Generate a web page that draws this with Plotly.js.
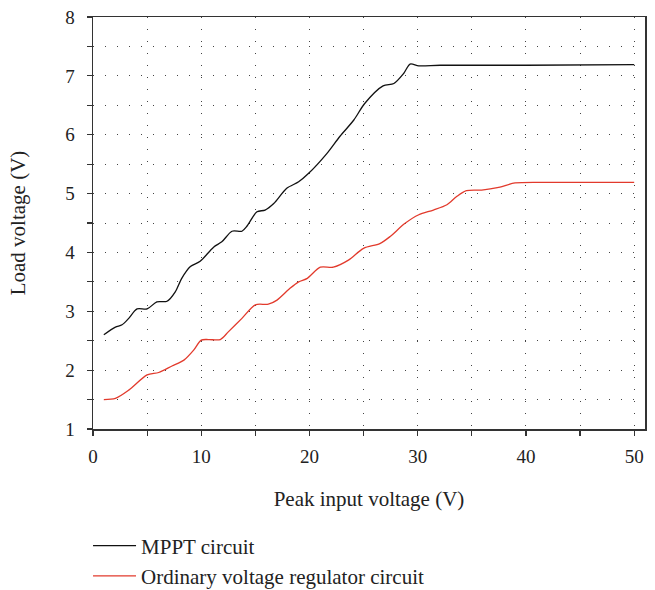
<!DOCTYPE html>
<html>
<head>
<meta charset="utf-8">
<script src="https://cdn.plot.ly/plotly-3.0.1.min.js"></script>
<style>html,body{margin:0;padding:0;background:#fff;}#chart{width:655px;height:590px;}</style>
</head>
<body>
<div id="chart"></div>
<script>
// MPPT circuit
var mpptX = [1, 2.07, 2.68, 3.3, 4.07, 5.0, 5.9, 6.84, 7.6, 8.2, 9.0, 9.9, 11.14, 11.9, 12.84, 13.76, 14.2, 15.15, 15.9, 16.7, 17.9, 19.0, 19.9, 21.6, 22.8, 24.1, 25.1, 26.8, 27.8, 28.7, 29.3, 30.1, 32.1, 40, 50];
var mpptY = [2.60, 2.73, 2.77, 2.88, 3.04, 3.04, 3.16, 3.17, 3.33, 3.56, 3.76, 3.85, 4.09, 4.18, 4.36, 4.36, 4.44, 4.69, 4.72, 4.83, 5.09, 5.20, 5.34, 5.68, 5.97, 6.25, 6.53, 6.83, 6.87, 7.04, 7.20, 7.17, 7.18, 7.18, 7.19];
// Ordinary voltage regulator circuit
var regX = [1, 2.07, 3.3, 5.0, 6.07, 7.3, 8.4, 9.3, 10.0, 10.7, 11.76, 12.5, 13.76, 15.0, 16.2, 17.0, 18.2, 19.0, 19.8, 21.0, 22.2, 23.6, 25.0, 26.5, 27.45, 28.8, 30.1, 31.45, 32.7, 33.6, 34.5, 35.9, 36.7, 37.6, 39.0, 42, 50];
var regY = [1.50, 1.52, 1.66, 1.92, 1.96, 2.07, 2.17, 2.34, 2.51, 2.52, 2.52, 2.65, 2.88, 3.11, 3.12, 3.19, 3.39, 3.50, 3.56, 3.75, 3.75, 3.87, 4.07, 4.15, 4.27, 4.49, 4.64, 4.72, 4.81, 4.95, 5.05, 5.06, 5.08, 5.11, 5.18, 5.19, 5.19];
var seriesNames = ["MPPT circuit", "Ordinary voltage regulator circuit"];
var xTitle = "Peak input voltage (V)";
var yTitle = "Load voltage (V)";

var font = "Liberation Serif, DejaVu Serif, serif";
var traces = [
  {x: mpptX, y: mpptY, name: seriesNames[0], mode: "lines",
   line: {color: "#111111", width: 1.3, shape: "spline", smoothing: 0.8}},
  {x: regX, y: regY, name: seriesNames[1], mode: "lines",
   line: {color: "#e23a2c", width: 1.3, shape: "spline", smoothing: 0.8}}
];
var gridStyle = {color: "#444", width: 1, dash: "1px,11px"};
var layout = {
  width: 655, height: 590,
  margin: {l: 93, r: 10, t: 17, b: 161, autoexpand: false},
  paper_bgcolor: "#fff", plot_bgcolor: "#fff",
  font: {family: font, size: 19, color: "#222"},
  showlegend: true,
  legend: {orientation: "v", x: -0.009, xanchor: "left", y: -0.234, yanchor: "top",
           font: {family: font, size: 21, color: "#222"}, traceorder: "normal",
           itemwidth: 43, bgcolor: "rgba(0,0,0,0)"},
  xaxis: {
    range: [0, 51], dtick: 10, tick0: 0, automargin: false,
    ticks: "outside", ticklen: 5, tickwidth: 1.2, tickcolor: "#333",
    showline: true, linecolor: "#333", linewidth: 1.5, mirror: true,
    showgrid: true, gridcolor: gridStyle.color, gridwidth: 1, griddash: gridStyle.dash,
    zeroline: false, ticklabelstandoff: 5,
    minor: {dtick: 5, tick0: 0, ticks: "outside", ticklen: 5, tickcolor: "#333", showgrid: true,
            gridcolor: gridStyle.color, gridwidth: 1, griddash: gridStyle.dash},
    tickfont: {family: font, size: 19, color: "#222"},
    title: {text: xTitle, font: {family: font, size: 21, color: "#222"}, standoff: 25}
  },
  yaxis: {
    range: [1, 8], dtick: 1, tick0: 0, automargin: false,
    ticks: "outside", ticklen: 5, tickwidth: 1.2, tickcolor: "#333",
    showline: true, linecolor: "#333", linewidth: 1.5, mirror: true,
    showgrid: true, gridcolor: gridStyle.color, gridwidth: 1, griddash: gridStyle.dash,
    zeroline: false, ticklabelstandoff: 8,
    minor: {dtick: 0.5, tick0: 0, ticks: "outside", ticklen: 5, tickcolor: "#333", showgrid: true,
            gridcolor: gridStyle.color, gridwidth: 1, griddash: gridStyle.dash},
    tickfont: {family: font, size: 19, color: "#222"},
    title: {text: yTitle, font: {family: font, size: 21, color: "#222"}, standoff: 34}
  }
};
Plotly.newPlot("chart", traces, layout, {displayModeBar: false, staticPlot: true});
</script>
</body>
</html>
